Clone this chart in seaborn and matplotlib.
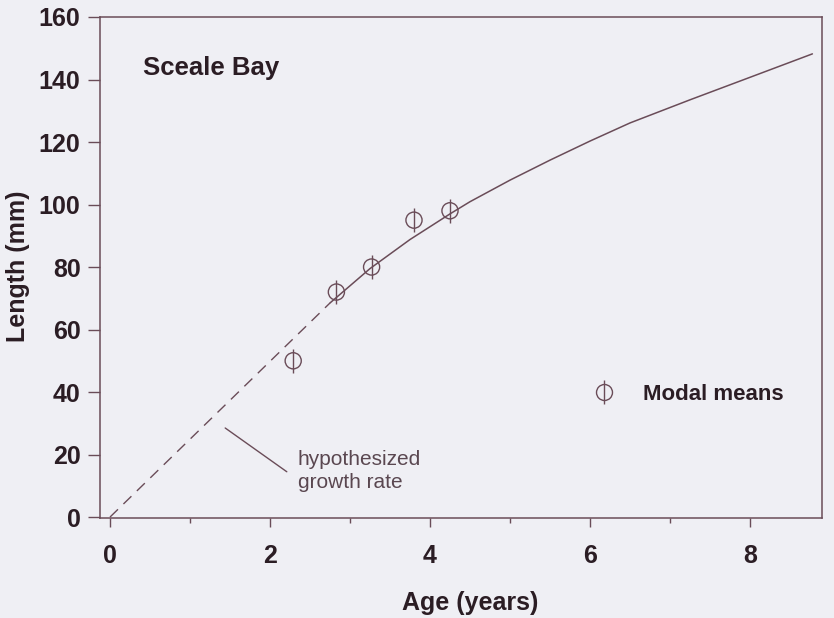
import matplotlib
matplotlib.use("Agg")
import matplotlib.pyplot as plt
from matplotlib.lines import Line2D
from matplotlib.legend_handler import HandlerTuple
import seaborn as sns
import pandas as pd

# Modal mean lengths by age
age_modal = [2.29, 2.83, 3.27, 3.80, 4.25]
length_modal = [50, 72, 80, 95, 98]

# Fitted growth curve (solid part)
age_curve = [2.75, 3.25, 3.75, 4.25, 4.5, 5.0, 5.5, 6.0, 6.5, 7.25, 8.0, 8.78]
length_curve = [68.5, 79.5, 88.8, 97.0, 100.9, 107.8, 114.2, 120.3, 126.1,
                133.5, 140.7, 148.2]

# Hypothesized early growth (dashed)
age_hyp = [0.0, 2.75]
length_hyp = [0.0, 68.5]

x_ticks = [0, 2, 4, 6, 8]
x_minor = [1, 3, 5, 7]
y_ticks = [0, 20, 40, 60, 80, 100, 120, 140, 160]

bg = "#efeff4"
ink = "#2b1d24"
line_col = "#6a4c58"

sns.set_theme(style="ticks")
plt.rcParams["font.family"] = ["Liberation Sans", "DejaVu Sans"]
plt.rcParams["font.weight"] = "bold"

fig = plt.figure(figsize=(8.34, 6.18), dpi=100, facecolor=bg)
ax = fig.add_axes([0.1199, 0.1618, 0.8657, 0.8107], facecolor=bg)

curve = pd.DataFrame({"age": age_curve, "length": length_curve})
hyp = pd.DataFrame({"age": age_hyp, "length": length_hyp})
modal = pd.DataFrame({"age": age_modal, "length": length_modal})

sns.lineplot(data=curve, x="age", y="length", ax=ax, color=line_col, lw=1.1,
             sort=False)
sns.lineplot(data=hyp, x="age", y="length", ax=ax, color=line_col, lw=1.0,
             sort=False, linestyle=(0, (8, 5.5)))

# Modal-mean marker: open circle with a vertical stroke through it
sns.scatterplot(data=modal, x="age", y="length", ax=ax, marker="o", s=135,
                facecolor="none", edgecolor=line_col, linewidth=1.0, zorder=4)
sns.scatterplot(data=modal, x="age", y="length", ax=ax, marker="|", s=290,
                color=line_col, linewidth=1.0, zorder=4)

ax.set_xlim(-0.125, 8.9)
ax.set_ylim(-0.3, 160)
ax.set_xticks(x_ticks)
ax.set_xticks(x_minor, minor=True)
ax.set_yticks(y_ticks)
ax.tick_params(axis="both", which="major", width=1.0, color=line_col,
               labelsize=18, labelcolor=ink)
ax.tick_params(axis="x", which="major", length=6.5, pad=12)
ax.tick_params(axis="y", which="major", length=9, pad=5)
ax.tick_params(axis="x", which="minor", length=3.5, width=1.0, color=line_col)
for lab in ax.get_xticklabels() + ax.get_yticklabels():
    lab.set_fontweight("bold")
for sp in ax.spines.values():
    sp.set_color(line_col)
    sp.set_linewidth(1.1)

ax.set_xlabel("Age (years)", fontsize=18, fontweight="bold", color=ink)
ax.xaxis.set_label_coords(0.5125, -0.146)
ax.set_ylabel("Length (mm)", fontsize=18, fontweight="bold", color=ink)
ax.yaxis.set_label_coords(-0.097, 0.503)

ax.text(0.41, 143.7, "Sceale Bay", fontsize=18.5, fontweight="bold", color=ink,
        va="center", ha="left")

# Annotation for the dashed segment
ax.plot([1.44, 2.21], [28.5, 14.5], color=line_col, lw=1.0)
ax.text(2.35, 21.6, "hypothesized\ngrowth rate", fontsize=15, fontweight="normal",
        color="#5a4750", va="top", ha="left", linespacing=1.3)

h_circ = Line2D([], [], marker="o", ls="none", markersize=11.5,
                markerfacecolor="none", markeredgecolor=line_col, markeredgewidth=1.0)
h_bar = Line2D([], [], marker="|", ls="none", markersize=17,
               markeredgecolor=line_col, markeredgewidth=1.0)
leg = ax.legend(handles=[(h_circ, h_bar)], labels=["Modal means"],
                handler_map={tuple: HandlerTuple(ndivide=1, pad=0)},
                frameon=False, loc="center left",
                bbox_to_anchor=(0.683, 0.2475), borderaxespad=0, borderpad=0,
                handlelength=1.0, handletextpad=1.23,
                prop={"size": 16, "weight": "bold"})
for t in leg.get_texts():
    t.set_color(ink)

fig.savefig("out.png", dpi=100, facecolor=bg)
